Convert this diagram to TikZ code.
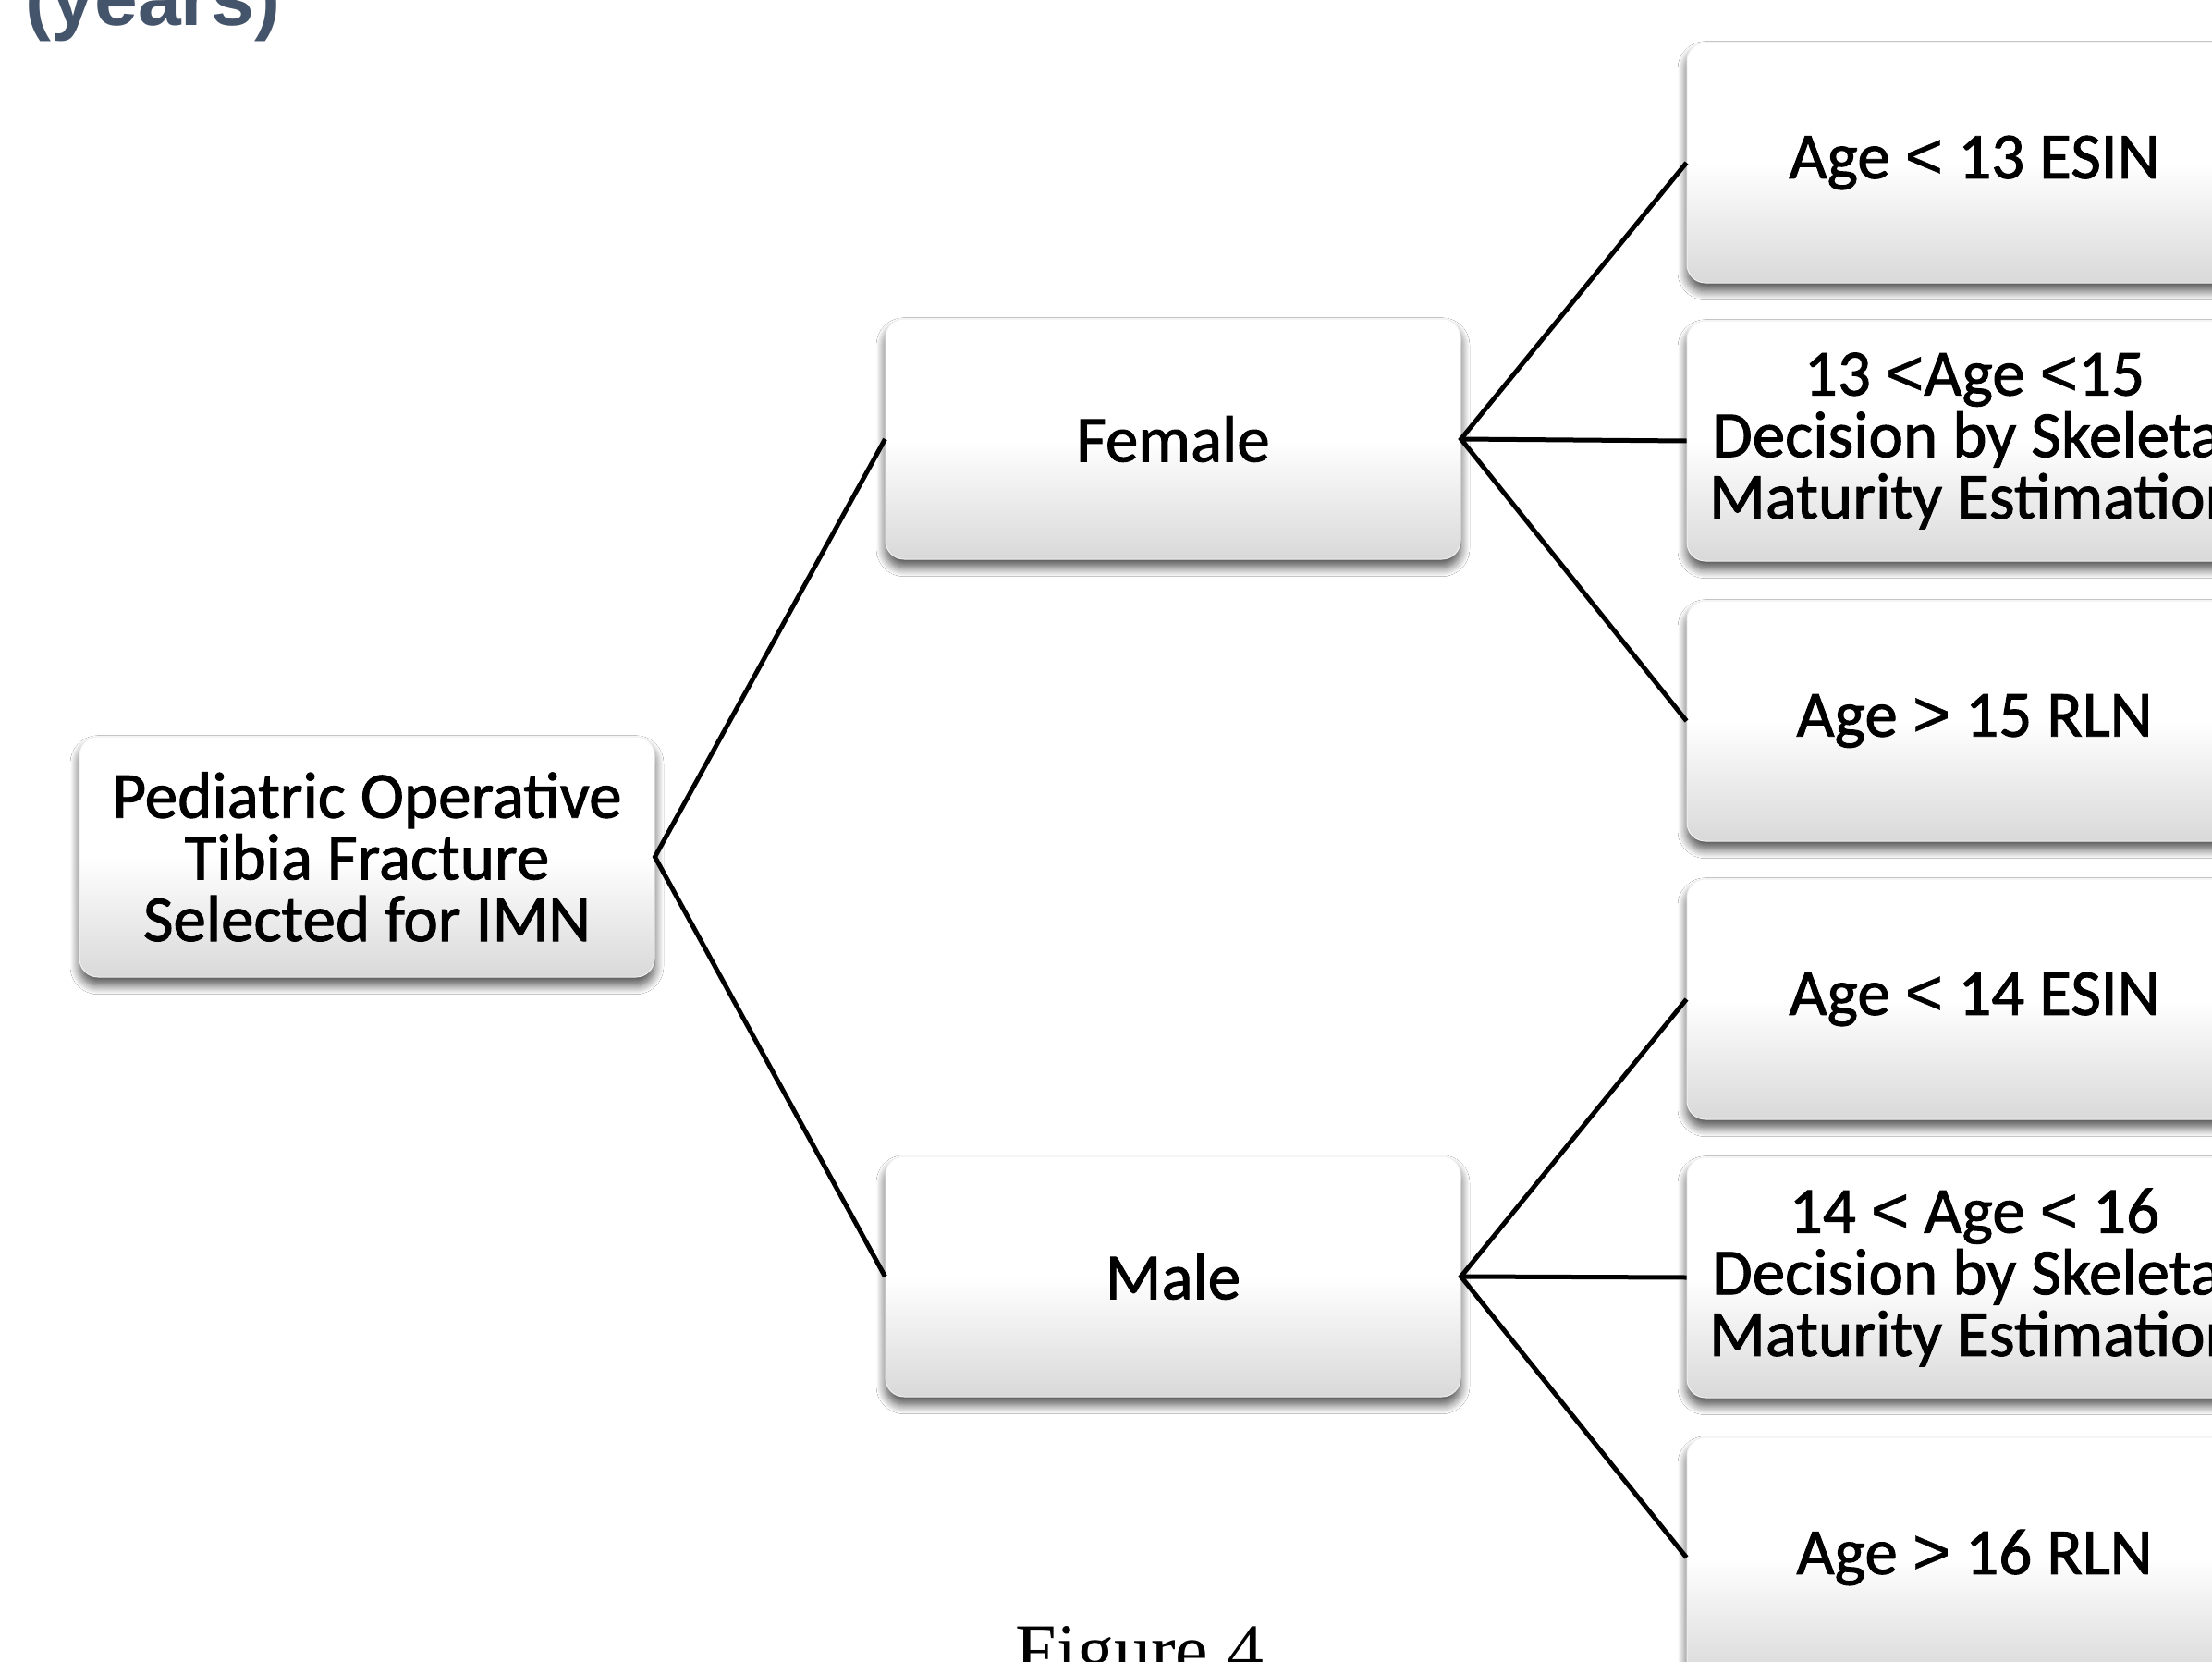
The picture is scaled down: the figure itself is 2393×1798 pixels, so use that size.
\documentclass[tikz,border=0pt]{standalone}
\usepackage{fontspec}
\setmainfont{Carlito}
\newfontfamily\boxfont{Carlito}[FakeBold=1.3]
\newfontfamily\signfont{Liberation Sans}[FakeBold=0.6]
\newfontfamily\yearsfont{Liberation Sans}
\newfontfamily\figfont{Liberation Serif}
\usetikzlibrary{shadows.blur}
\definecolor{slate}{HTML}{44546A}
\newcommand{\ltsign}{{\signfont <}}
\newcommand{\gtsign}{{\signfont >}}
\pgfdeclareverticalshading{boxshade}{100bp}{color(0bp)=(black!15); color(25bp)=(black!15); color(50bp)=(white); color(100bp)=(white)}
\tikzset{
  boxnode/.style={shape=rectangle, rounded corners=6pt, draw=black!6, line width=0.3pt,
    shading=boxshade, minimum width=186.6pt, minimum height=78pt, inner sep=0pt,
    align=center, font=\boxfont\fontsize{21.3}{20}\selectfont,
    blur shadow={shadow xshift=0pt, shadow yshift=-2.6pt, shadow blur radius=3pt, shadow opacity=70, shadow blur steps=12}},
  link/.style={draw=black, line width=1.5pt}
}
\begin{document}
\begin{tikzpicture}[x=0.3pt, y=-0.3pt]
\useasboundingbox (0,0) rectangle (2393,1798);
\clip (0,0) rectangle (2393,1798);
\fill[white] (0,0) rectangle (2393,1798);
\node[anchor=base west, inner sep=0pt, text=slate, font=\yearsfont\bfseries\fontsize{25.2}{30}\selectfont] (yrs) at (27,27) {(years)};
\node[boxnode] (root) at (397,927) {Pediatric Operative\\Tibia Fracture\\Selected for IMN};
\node[boxnode] (fem) at (1269,475) {Female};
\node[boxnode] (male) at (1269,1381) {Male};
\node[boxnode] (f1) at (2136,176) {Age \ltsign{} 13 ESIN};
\node[boxnode] (f2) at (2136,477) {13 \ltsign{}Age \ltsign{}15\\Decision by Skeletal\\Maturity Estimation};
\node[boxnode] (f3) at (2136,780) {Age \gtsign{} 15 RLN};
\node[boxnode] (m1) at (2136,1081) {Age \ltsign{} 14 ESIN};
\node[boxnode] (m2) at (2136,1382) {14 \ltsign{} Age \ltsign{} 16\\Decision by Skeletal\\Maturity Estimation};
\node[boxnode] (m3) at (2136,1685) {Age \gtsign{} 16 RLN};
\node[anchor=base, inner sep=0pt, font=\figfont\fontsize{24}{28}\selectfont] (fig) at (1233,1812) {Figure 4};
\draw[link] (fem.west) -- (root.east) -- (male.west);
\draw[link] (f1.west) -- (fem.east) -- (f3.west);
\draw[link] (fem.east) -- (f2.west);
\draw[link] (m1.west) -- (male.east) -- (m3.west);
\draw[link] (male.east) -- (m2.west);
\end{tikzpicture}
\end{document}
